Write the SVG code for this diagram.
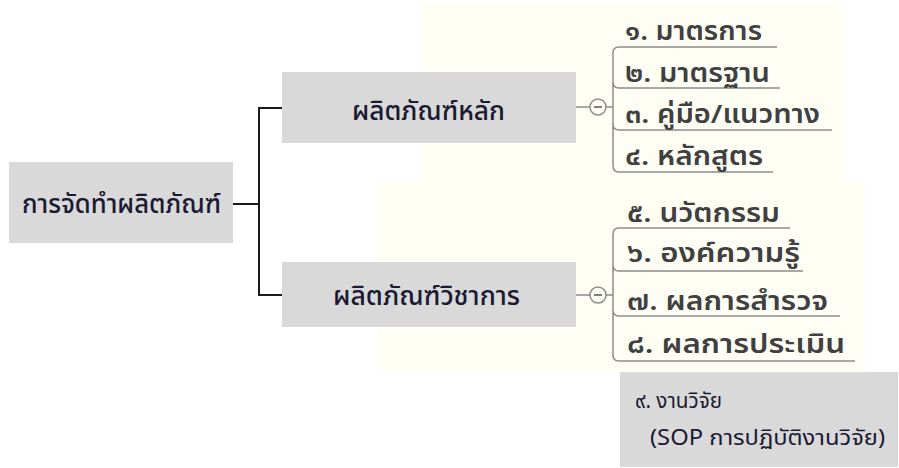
<svg xmlns="http://www.w3.org/2000/svg" width="899" height="468" viewBox="0 0 899 468">
<style>
.box{fill:#d9d9d9}
.main{font-family:"Noto Sans Thai","Tahoma","DejaVu Sans",sans-serif;font-size:26px;font-weight:500;fill:#1a1a33}
.leaf{font-family:"Noto Sans Thai","Loma","DejaVu Sans",sans-serif;font-size:26px;font-weight:600;fill:#404040}
.note{font-family:"Noto Sans Thai","Tahoma","DejaVu Sans",sans-serif;font-size:21px;fill:#1a1a33}
.conn{fill:none;stroke:#1a1a1a;stroke-width:2}
.sub{fill:none;stroke:#8c8c8c;stroke-width:1.5}
.cream{fill:#fefef5}
</style>
<rect class="cream" x="422" y="3" width="420" height="180"/>
<rect class="cream" x="377" y="182" width="488" height="188"/>
<g id="connectors">
<path class="conn" d="M233,204 H259 M283,108 H259 V295 H283"/>
<path class="sub" d="M576,107 H590 M606,107 H613 M576,295 H590 M606,295 H613"/>
<circle class="sub" cx="598" cy="107" r="8" fill="#fff"/>
<line x1="594" y1="107" x2="602" y2="107" stroke="#555" stroke-width="1.5"/>
<circle class="sub" cx="598" cy="295" r="8" fill="#fff"/>
<line x1="594" y1="295" x2="602" y2="295" stroke="#555" stroke-width="1.5"/>
<path class="sub" d="M777,47 H619 Q613,47 613,53 V166 Q613,172 619,172 H773 M613,82 Q613,88 619,88 H780 M613,124 Q613,130 619,130 H832"/>
<path class="sub" d="M790,228 H619 Q613,228 613,234 V355 Q613,361 619,361 H855 M613,265 Q613,271 619,271 H803 M613,310 Q613,316 619,316 H840"/>
</g>
<g id="root"><rect class="box" x="9" y="162" width="224" height="81"/><text class="main" x="22" y="213" textLength="199" lengthAdjust="spacingAndGlyphs">การจัดทำผลิตภัณฑ์</text></g>
<g id="n1"><rect class="box" x="282" y="72" width="294" height="71"/><text class="main" x="352" y="120" textLength="153" lengthAdjust="spacingAndGlyphs">ผลิตภัณฑ์หลัก</text></g>
<g id="n2"><rect class="box" x="282" y="262" width="294" height="65"/><text class="main" x="333" y="305" textLength="187" lengthAdjust="spacingAndGlyphs">ผลิตภัณฑ์วิชาการ</text></g>
<g id="l1"><text class="leaf" x="625" y="40" textLength="137" lengthAdjust="spacingAndGlyphs">๑. มาตรการ</text></g>
<g id="l2"><text class="leaf" x="625" y="82" textLength="145" lengthAdjust="spacingAndGlyphs">๒. มาตรฐาน</text></g>
<g id="l3"><text class="leaf" x="625" y="123" textLength="195" lengthAdjust="spacingAndGlyphs">๓. คู่มือ/แนวทาง</text></g>
<g id="l4"><text class="leaf" x="625" y="165" textLength="138" lengthAdjust="spacingAndGlyphs">๔. หลักสูตร</text></g>
<g id="l5"><text class="leaf" x="627" y="222" textLength="153" lengthAdjust="spacingAndGlyphs">๕. นวัตกรรม</text></g>
<g id="l6"><text class="leaf" x="627" y="262" textLength="173" lengthAdjust="spacingAndGlyphs">๖. องค์ความรู้</text></g>
<g id="l7"><text class="leaf" x="627" y="310" textLength="201" lengthAdjust="spacingAndGlyphs">๗. ผลการสำรวจ</text></g>
<g id="l8"><text class="leaf" x="627" y="353" textLength="218" lengthAdjust="spacingAndGlyphs">๘. ผลการประเมิน</text></g>
<g id="n9"><rect class="box" x="620" y="372" width="278" height="95"/><text class="note" x="635" y="408" textLength="87" lengthAdjust="spacingAndGlyphs">๙. งานวิจัย</text><text class="note" x="650" y="445" textLength="235" lengthAdjust="spacingAndGlyphs">(SOP การปฏิบัติงานวิจัย)</text></g>
</svg>
